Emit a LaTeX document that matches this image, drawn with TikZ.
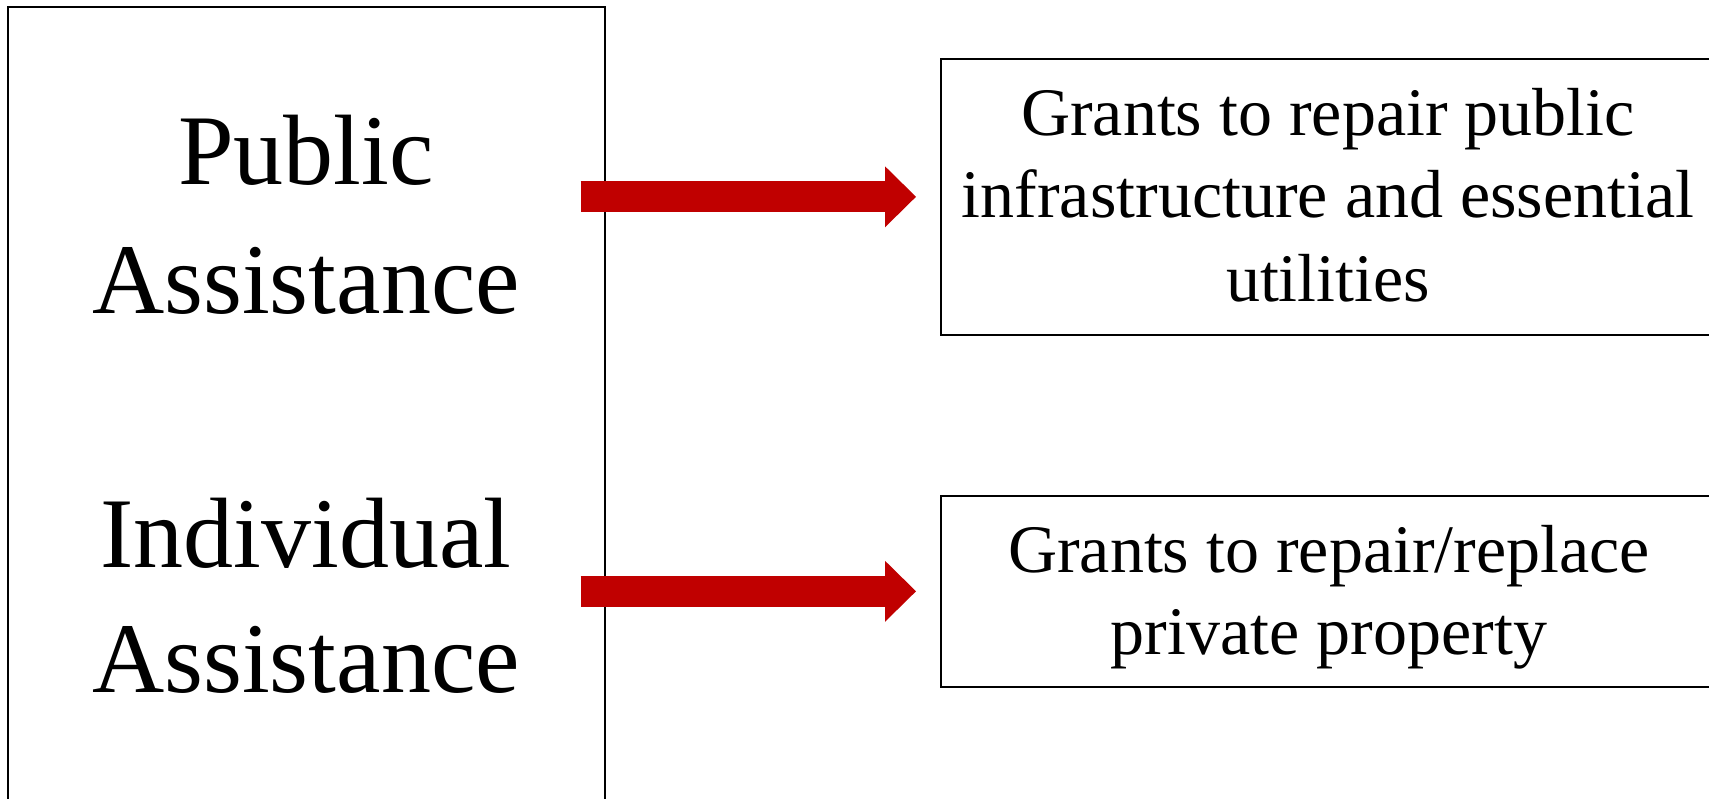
\documentclass[tikz,border=0pt]{standalone}
\usepackage{fontspec}
\setmainfont{Liberation Serif}
\usetikzlibrary{arrows.meta}
\definecolor{arrowred}{HTML}{C00000}
\tikzset{
  box/.style={draw=black, line width=1.6pt, inner sep=0pt, anchor=north west},
  biglbl/.style={anchor=base, inner sep=0pt, font=\fontsize{100}{118}\selectfont},
  smalllbl/.style={anchor=base, inner sep=0pt, font=\fontsize{68}{80}\selectfont},
  bigarrow/.style={draw=arrowred, line width=31pt, -{Triangle[length=31pt, width=61pt, line width=0pt]}}
}
\begin{document}
\begin{tikzpicture}[x=1pt, y=-1pt]
\useasboundingbox (0,0) rectangle (1709,799);
% left box
\node[box, minimum width=597pt, minimum height=860pt] (L) at (7,6) {};
% right boxes
\node[box, minimum width=776pt, minimum height=276pt] (R1) at (940,58) {};
\node[box, minimum width=776pt, minimum height=191pt] (R2) at (940,495) {};
% left labels
\node[biglbl] (pa1) at (306,185) {Public};
\node[biglbl] (pa2) at (306,314) {Assistance};
\node[biglbl] (ia1) at (306,567) {Individual};
\node[biglbl] (ia2) at (306,692) {Assistance};
% right labels
\node[smalllbl] (r1a) at (1328,136) {Grants to repair public};
\node[smalllbl] (r1b) at (1328,218) {infrastructure and essential};
\node[smalllbl] (r1c) at (1328,302) {utilities};
\node[smalllbl] (r2a) at (1329,572) {Grants to repair/replace};
\node[smalllbl] (r2b) at (1329,654) {private property};
% arrows
\draw[bigarrow] ([xshift=-25pt]L.east |- R1.west) -- ([xshift=-24pt]R1.west);
\draw[bigarrow] ([xshift=-25pt]L.east |- R2.west) -- ([xshift=-24pt]R2.west);
\end{tikzpicture}
\end{document}
